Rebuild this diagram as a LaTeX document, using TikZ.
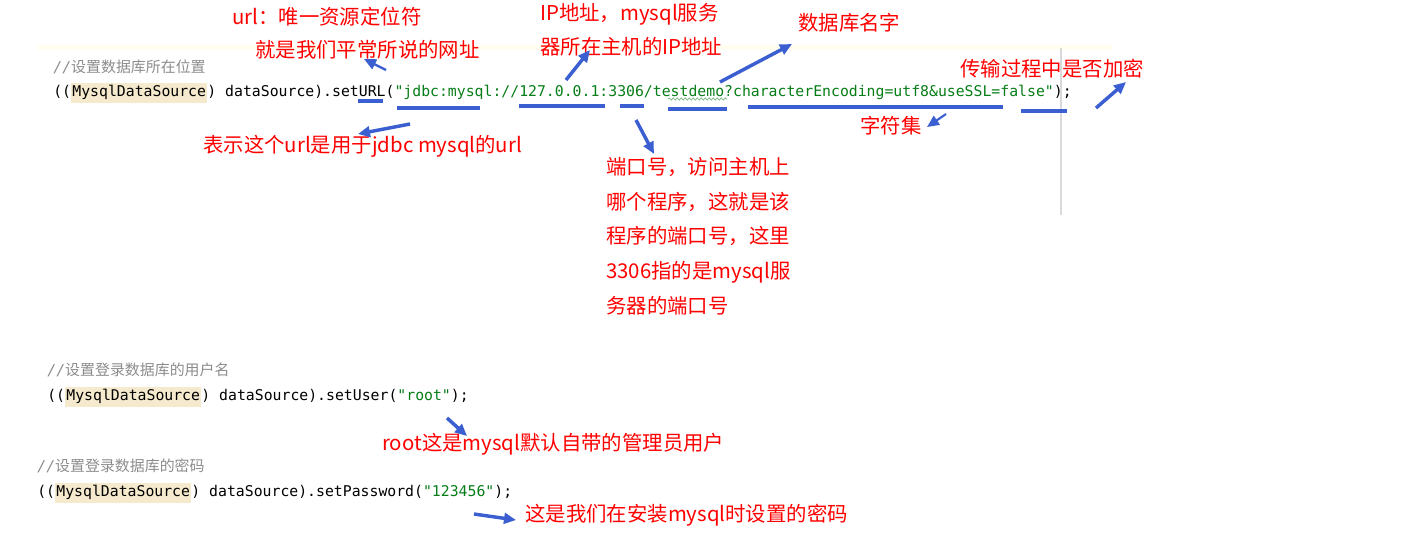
\documentclass[tikz,border=0pt]{standalone}
\usepackage{fontspec}
\usetikzlibrary{arrows.meta,decorations.pathmorphing}
\setmonofont{DejaVu Sans Mono}
\newfontfamily\cjk{Noto Sans CJK SC}
\definecolor{blu}{HTML}{3B5FD0}
\definecolor{strg}{HTML}{067D17}
\definecolor{hl}{HTML}{F5EACD}
\definecolor{cmt}{HTML}{8C8C8C}
\newcommand{\hlbox}[1]{{\setlength{\fboxsep}{1pt}\colorbox{hl}{\strut #1}}}
\begin{document}
\begin{tikzpicture}[x=0.75pt,y=-0.75pt,
  codetx/.style={anchor=base west,inner sep=0,font=\ttfamily\fontsize{11.1}{13}\selectfont},
  cmtx/.style={anchor=base west,inner sep=0,text=cmt,font=\fontsize{11.2}{13}\selectfont},
  lab/.style={anchor=base west,inner sep=0,text=red,font=\cjk\fontsize{15.3}{16}\selectfont},
  arr/.style={blu,line width=2.6pt,-{Triangle[length=9pt,width=8pt]}},
  ul/.style={blu,line width=2.6pt}]
\useasboundingbox (0,0) rectangle (1412,547);
\fill[black!4!yellow!6] (38,45) rectangle (1112,50);
\draw[black!15,line width=1.5pt] (1061,48) -- (1061,215);
% code
\node[cmtx] (c1) at (53,72) {\itshape\ttfamily //\cjk 设置数据库所在位置};
\node[codetx] (l1) at (53,96) {((\hlbox{MysqlDataSource}) dataSource).setURL(\textcolor{strg}{"jdbc:mysql://127.0.0.1:3306/testdemo?characterEncoding=utf8\&useSSL=false"});};
\node[cmtx] (c2) at (47,375) {\itshape\ttfamily //\cjk 设置登录数据库的用户名};
\node[codetx] (l2) at (47,400) {((\hlbox{MysqlDataSource}) dataSource).setUser(\textcolor{strg}{"root"});};
\node[cmtx] (c3) at (37,471) {\itshape\ttfamily //\cjk 设置登录数据库的密码};
\node[codetx] (l3) at (37,496) {((\hlbox{MysqlDataSource}) dataSource).setPassword(\textcolor{strg}{"123456"});};
\draw[strg!60,decorate,decoration={snake,amplitude=0.8pt,segment length=3pt},line width=0.5pt] (668,99) -- (727,99);
% labels
\node[lab] (a) at (232,24) {url：唯一资源定位符};
\node[lab] (b) at (255,57) {就是我们平常所说的网址};
\node[lab] (c) at (540,20) {IP地址，mysql服务};
\node[lab] (d) at (540,54) {器所在主机的IP地址};
\node[lab] (e) at (798,30) {数据库名字};
\node[lab] (f) at (960,76) {传输过程中是否加密};
\node[lab] (g) at (203,152) {表示这个url是用于jdbc mysql的url};
\node[lab] (h) at (860,133) {字符集};
\node[lab,align=left,anchor=north west,font=\cjk\fontsize{15.3}{26}\selectfont] (p) at (606,157) {端口号，访问主机上\\哪个程序，这就是该\\程序的端口号，这里\\3306指的是mysql服\\务器的端口号};
\node[lab] (r) at (382,450) {root这是mysql默认自带的管理员用户};
\node[lab] (s) at (525,521) {这是我们在安装mysql时设置的密码};
% underlines
\coordinate (u1a) at (358,101); \coordinate (u1b) at (383,101);
\draw[ul] (u1a) -- (u1b);
\draw[ul] (397,108) -- (480,108);
\draw[ul] (519,106) -- (605,106);
\draw[ul] (620,106) -- (644,106);
\draw[ul] (668,109) -- (727,109);
\draw[ul] (748,107) -- (1003,107);
\draw[ul] (1021,111) -- (1067,111);
% arrows
\coordinate (t1) at (386,70); \coordinate (h1) at (364,59);
\draw[arr,line width=1.8pt] (t1) -- (h1);
\coordinate (t2) at (566,80); \coordinate (h2) at (590,50);
\draw[arr] (t2) -- (h2);
\coordinate (t3) at (720,82); \coordinate (h3) at (792,44);
\draw[arr] (t3) -- (h3);
\coordinate (t4) at (1096,108); \coordinate (h4) at (1126,82);
\draw[arr] (t4) -- (h4);
\coordinate (t5) at (410,124); \coordinate (h5) at (358,134);
\draw[arr] (t5) -- (h5);
\coordinate (t6) at (636,120); \coordinate (h6) at (654,154);
\draw[arr] (t6) -- (h6);
\coordinate (t7) at (946,114); \coordinate (h7) at (927,127);
\draw[arr,line width=1.6pt] (t7) -- (h7);
\coordinate (t8) at (447,418); \coordinate (h8) at (467,436);
\draw[arr] (t8) -- (h8);
\coordinate (t9) at (474,514); \coordinate (h9) at (516,520);
\draw[arr] (t9) -- (h9);
\end{tikzpicture}
\end{document}
